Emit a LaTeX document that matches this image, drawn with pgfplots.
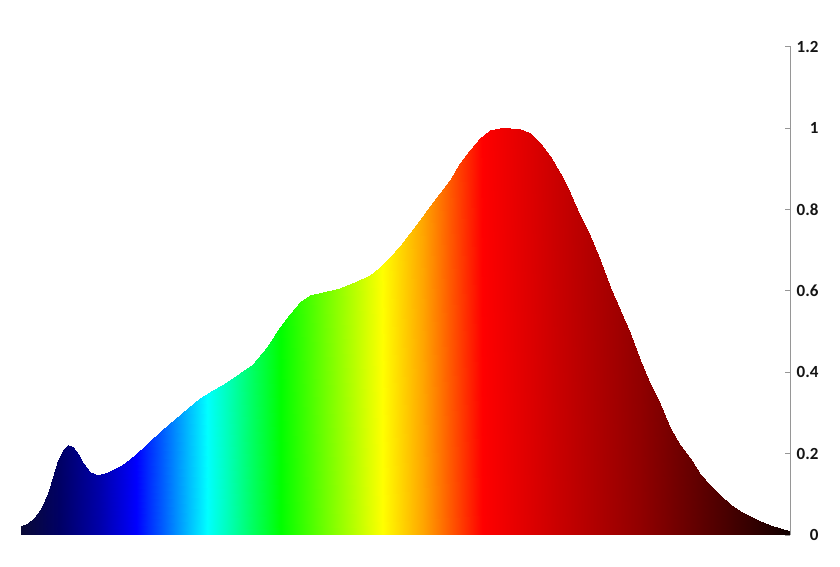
\documentclass[border=0pt]{standalone}
\usepackage{fontspec}
\setmainfont{Carlito}
\usepackage{pgfplots}
\pgfplotsset{compat=1.18}

\definecolor{axisgray}{RGB}{150,150,150}
\definecolor{labelblack}{RGB}{20,20,20}

% spectrum colours, positions in nm
\pgfplotsset{colormap={spectrum}{
  rgb255(380pt)=(10,10,55)
  rgb255(400pt)=(0,0,100)
  rgb255(421pt)=(0,0,170)
  rgb255(440pt)=(0,0,255)
  rgb255(477pt)=(0,255,255)
  rgb255(515pt)=(0,255,0)
  rgb255(568pt)=(255,255,0)
  rgb255(589pt)=(255,165,0)
  rgb255(620pt)=(255,0,0)
  rgb255(660pt)=(200,0,0)
  rgb255(702pt)=(145,0,0)
  rgb255(733pt)=(95,0,0)
  rgb255(764pt)=(45,0,0)
  rgb255(780pt)=(15,0,0)
}}

\begin{document}
\begin{tikzpicture}
  \begin{axis}[
    name=ax,
    scale only axis,
    width=769pt, height=488.5pt,
    xmin=380, xmax=780,
    ymin=0, ymax=1.2,
    enlargelimits=false,
    axis x line=none,
    axis y line=right,
    axis line style={axisgray, line width=0.8pt, -},
    ytick={0,0.2,...,1.2},
    tick align=inside,
    major tick length=5pt,
    tick style={axisgray, line width=0.8pt},
    yticklabel style={anchor=east, xshift=32pt, font=\fontsize{17}{18}\selectfont\bfseries, text=labelblack},
    /pgf/number format/assume math mode=true,
    clip=false,
  ]
  % spectrum: each wavelength listed at 0 and at its relative intensity
  \addplot[surf, shader=interp, colormap name=spectrum, mesh/cols=2,
    point meta=x, point meta min=380, point meta max=780] table {
    380.0 0
    380.0 0.021
    383.8 0
    383.8 0.030
    387.3 0
    387.3 0.044
    390.8 0
    390.8 0.069
    394.2 0
    394.2 0.102
    396.8 0
    396.8 0.143
    399.4 0
    399.4 0.184
    402.0 0
    402.0 0.208
    404.6 0
    404.6 0.221
    407.2 0
    407.2 0.216
    409.8 0
    409.8 0.200
    412.4 0
    412.4 0.176
    415.9 0
    415.9 0.155
    420.2 0
    420.2 0.147
    425.4 0
    425.4 0.155
    432.4 0
    432.4 0.172
    439.3 0
    439.3 0.196
    446.2 0
    446.2 0.225
    453.2 0
    453.2 0.258
    460.1 0
    460.1 0.286
    467.0 0
    467.0 0.313
    473.1 0
    473.1 0.337
    480.0 0
    480.0 0.356
    487.0 0
    487.0 0.376
    493.9 0
    493.9 0.397
    500.8 0
    500.8 0.421
    507.8 0
    507.8 0.462
    514.7 0
    514.7 0.511
    519.9 0
    519.9 0.544
    525.1 0
    525.1 0.573
    530.3 0
    530.3 0.589
    537.2 0
    537.2 0.598
    545.9 0
    545.9 0.606
    554.6 0
    554.6 0.623
    561.5 0
    561.5 0.639
    566.7 0
    566.7 0.658
    571.9 0
    571.9 0.682
    577.1 0
    577.1 0.709
    582.3 0
    582.3 0.742
    587.5 0
    587.5 0.775
    592.7 0
    592.7 0.807
    597.9 0
    597.9 0.840
    603.2 0
    603.2 0.873
    608.4 0
    608.4 0.914
    613.6 0
    613.6 0.946
    618.8 0
    618.8 0.975
    624.0 0
    624.0 0.994
    629.2 0
    629.2 0.999
    634.4 0
    634.4 1.000
    639.6 0
    639.6 0.998
    644.8 0
    644.8 0.988
    650.0 0
    650.0 0.963
    655.2 0
    655.2 0.930
    660.4 0
    660.4 0.889
    665.6 0
    665.6 0.840
    670.8 0
    670.8 0.783
    676.0 0
    676.0 0.734
    681.2 0
    681.2 0.676
    686.4 0
    686.4 0.610
    691.6 0
    691.6 0.553
    696.9 0
    696.9 0.496
    702.1 0
    702.1 0.430
    707.3 0
    707.3 0.372
    712.5 0
    712.5 0.323
    717.7 0
    717.7 0.264
    722.9 0
    722.9 0.220
    728.1 0
    728.1 0.188
    733.2 0
    733.2 0.151
    738.4 0
    738.4 0.122
    743.6 0
    743.6 0.098
    748.8 0
    748.8 0.077
    754.0 0
    754.0 0.060
    759.2 0
    759.2 0.046
    764.4 0
    764.4 0.034
    769.6 0
    769.6 0.025
    774.8 0
    774.8 0.018
    780.0 0
    780.0 0.011
  };
  \end{axis}
  \pgfresetboundingbox
  \path ([shift={(-21pt,-32pt)}]ax.south west) rectangle ([shift={(50pt,46.5pt)}]ax.north east);
\end{tikzpicture}
\end{document}
